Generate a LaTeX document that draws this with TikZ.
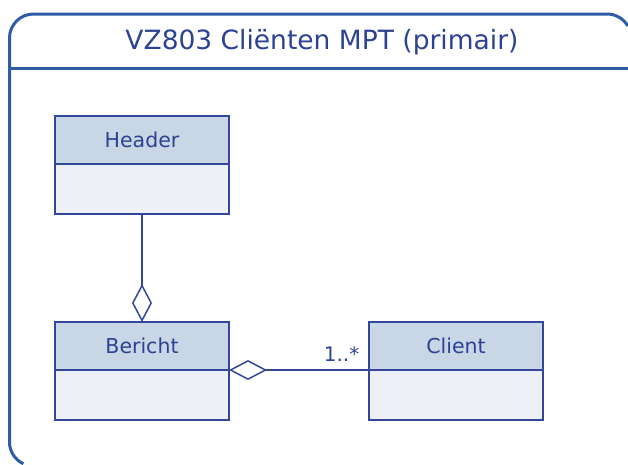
\documentclass[tikz,border=0pt]{standalone}
\usepackage{fontspec}
\setmainfont{DejaVu Sans}
\usepackage{xcolor}
\usetikzlibrary{arrows.meta,positioning}

\definecolor{frameblue}{HTML}{2E5DA6}
\definecolor{umlblue}{HTML}{33479A}
\definecolor{textblue}{HTML}{2C4292}
\definecolor{namefill}{HTML}{C9D6E6}
\definecolor{bodyfill}{HTML}{EDF0F6}

\begin{document}
\begin{tikzpicture}[x=1pt, y=-1pt,
  frame/.style={draw=frameblue, line width=3pt},
  classname/.style={draw=umlblue, line width=1.1pt, fill=namefill,
    minimum width=174pt, minimum height=48pt, inner sep=0pt, outer sep=0pt,
    text=textblue, font=\fontsize{20.5}{24}\selectfont,
    text height=15pt, text depth=0pt},
  classbody/.style={draw=umlblue, line width=1.1pt, fill=bodyfill,
    minimum width=174pt, minimum height=50pt, inner sep=0pt, outer sep=0pt},
  aggregation/.style={-{Diamond[open, length=38pt, width=20pt, fill=white]},
    draw=umlblue, line width=1.5pt}]

 \useasboundingbox (0,0) rectangle (628,464);

 % outer frame, only the part that lies on the page
 \draw [frame] (627.8,26) arc [start angle=30, end angle=90, radius=24pt]
     -- (33.5,14) arc [start angle=90, end angle=180, radius=24pt]
     -- (9.5,442) arc [start angle=180, end angle=245, radius=24pt];
 \draw [frame] (9.5,68) -- (628,68);

 \node (title) at (322,39.5) [text=textblue, inner sep=0pt,
     font=\fontsize{26.5}{30}\selectfont, text height=19.5pt, text depth=0pt]
     {VZ803 Cliënten MPT (primair)};


 \node [classname] (header) at (142,140) {Header};
 \node [classbody, below=0pt of header] (header_body) {};

 \node [classname] (bericht) at (142,346) {Bericht};
 \node [classbody, below=0pt of bericht] (bericht_body) {};

 \node [classname] (client) at (456,346) {Client};
 \node [classbody, below=0pt of client] (client_body) {};


 \draw [aggregation] (header_body.south) -- (bericht.north);
 \draw [aggregation] (client.south west) -- (bericht.south east)
     node [pos=0, anchor=base east, inner sep=0pt, xshift=-9pt, yshift=9pt,
       text=textblue, font=\fontsize{20}{24}\selectfont] {1..*};

\end{tikzpicture}
\end{document}
